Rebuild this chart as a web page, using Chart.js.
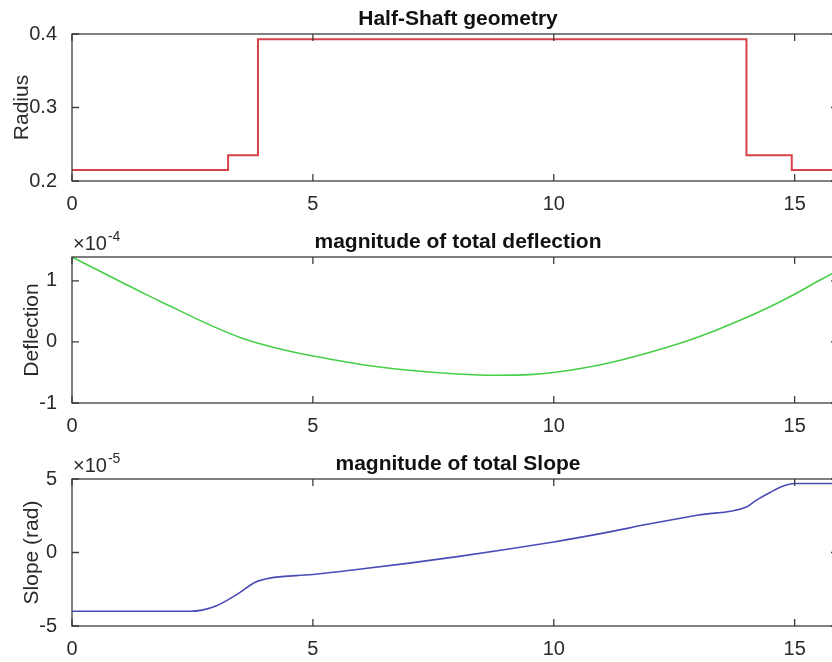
<!DOCTYPE html>
<html>
<head>
<meta charset="utf-8">
<title>Half-Shaft</title>
<script src="https://cdn.jsdelivr.net/npm/chart.js@4"></script>
<style>
  html, body { margin: 0; padding: 0; background: #fff; overflow: hidden; width: 832px; height: 662px; }
  .panel { position: absolute; left: 0; }
</style>
</head>
<body>
<div class="panel" style="top:0px"><canvas id="geom" width="860" height="222"></canvas></div>
<div class="panel" style="top:222px"><canvas id="defl" width="860" height="222"></canvas></div>
<div class="panel" style="top:444px"><canvas id="slope" width="860" height="218"></canvas></div>
<script>
// position along the shaft
const xTicks = [0, 5, 10, 15];
const xMax = 15.9;

// shaft radius, piecewise constant (start of each section)
const shaftX = [0, 3.24, 3.86, 14.0, 14.94, 15.9];
const shaftRadius = [0.215, 0.235, 0.393, 0.235, 0.215, 0.215];
const radiusTicks = [0.2, 0.3, 0.4];

// total deflection, in units of 1e-4
const deflX = [0, 0.5, 1, 1.5, 2, 2.5, 3, 3.5, 4, 4.5, 5, 6, 7, 8, 8.8, 9.5, 10, 11, 12, 13, 14, 14.5, 15, 15.5, 15.9];
const deflection = [1.39, 1.19, 0.99, 0.79, 0.60, 0.41, 0.23, 0.07, -0.05, -0.15, -0.23, -0.37, -0.465, -0.525, -0.545, -0.535, -0.50, -0.37, -0.17, 0.08, 0.40, 0.58, 0.78, 1.0, 1.17];
const deflTicks = [-1, 0, 1];

// total slope, in units of 1e-5 rad
const slopeX = [0, 2.45, 2.7, 3.0, 3.4, 3.87, 5, 6, 7, 8, 9, 10, 11, 12, 13, 14, 14.2, 14.5, 14.75, 15, 15.9];
const slope = [-4.0, -4.0, -3.92, -3.62, -2.9, -1.93, -1.5, -1.12, -0.72, -0.28, 0.2, 0.72, 1.3, 1.95, 2.55, 3.1, 3.55, 4.1, 4.5, 4.69, 4.69];
const slopeTicks = [-5, 0, 5];

const FONT = '"Liberation Sans", Arial, Helvetica, sans-serif';
const axisColor = '#3c3c3c';
const textColor = '#2a2a2a';

// box round the axes, inward ticks on all four sides, title and exponent
const frame = {
  id: 'frame',
  afterDatasetsDraw(chart, args, opts) {
    const { ctx, chartArea: a, scales } = chart;
    const tl = 7;
    ctx.save();
    ctx.strokeStyle = axisColor;
    ctx.lineWidth = 1.3;
    ctx.strokeRect(a.left, a.top, a.right - a.left, a.bottom - a.top);
    ctx.beginPath();
    scales.x.ticks.forEach(t => {
      const px = scales.x.getPixelForValue(t.value);
      ctx.moveTo(px, a.bottom); ctx.lineTo(px, a.bottom - tl);
      ctx.moveTo(px, a.top); ctx.lineTo(px, a.top + tl);
    });
    scales.y.ticks.forEach(t => {
      const py = scales.y.getPixelForValue(t.value);
      ctx.moveTo(a.left, py); ctx.lineTo(a.left + tl, py);
      ctx.moveTo(a.right, py); ctx.lineTo(a.right - tl, py);
    });
    ctx.stroke();

    ctx.fillStyle = '#111';
    ctx.font = 'bold 21px ' + FONT;
    ctx.textAlign = 'center';
    ctx.textBaseline = 'alphabetic';
    ctx.fillText(opts.title, (a.left + a.right) / 2 + 3, a.top - 9);

    if (opts.exponent) {
      ctx.fillStyle = textColor;
      ctx.textAlign = 'left';
      ctx.font = '20px ' + FONT;
      const base = '\u00d710';
      ctx.fillText(base, a.left + 1, a.top - 7);
      const w = ctx.measureText(base).width;
      ctx.font = '14px ' + FONT;
      ctx.fillText(opts.exponent, a.left + 2 + w, a.top - 16);
    }
    ctx.restore();
  }
};

function panel(id, xs, ys, color, yMin, yMax, yTicks, yLabel, labelPad, title, exponent, areaTop, areaBottom, fmt) {
  const canvas = document.getElementById(id);
  const h = canvas.height;
  const isStep = id === 'geom';
  return new Chart(canvas, {
    type: 'line',
    data: {
      datasets: [{
        data: xs.map((x, i) => ({ x: x, y: ys[i] })),
        borderColor: color,
        borderWidth: isStep ? 2 : 1.6,
        pointRadius: 0,
        fill: false,
        stepped: isStep ? 'before' : false,
        cubicInterpolationMode: isStep ? 'default' : 'monotone'
      }]
    },
    options: {
      responsive: false,
      animation: false,
      events: [],
      layout: { padding: { top: areaTop, right: 22, bottom: 0, left: 0 } },
      plugins: {
        legend: { display: false },
        tooltip: { enabled: false },
        frame: { title: title, exponent: exponent }
      },
      scales: {
        x: {
          type: 'linear',
          min: 0,
          max: xMax,
          grid: { display: false },
          border: { display: false },
          afterBuildTicks: s => { s.ticks = xTicks.map(v => ({ value: v })); },
          afterFit: s => { s.height = h - areaBottom; },
          ticks: { color: textColor, font: { family: FONT, size: 20 }, padding: 3, maxRotation: 0 }
        },
        y: {
          min: yMin,
          max: yMax,
          grid: { display: false },
          border: { display: false },
          afterBuildTicks: s => { s.ticks = yTicks.map(v => ({ value: v })); },
          afterFit: s => { s.width = 72; },
          ticks: { color: textColor, font: { family: FONT, size: 20 }, padding: 7, callback: fmt },
          title: {
            display: true,
            text: yLabel,
            color: textColor,
            font: { family: FONT, size: 21 },
            padding: { top: labelPad, bottom: 0 }
          }
        }
      }
    },
    plugins: [frame]
  });
}

panel('geom', shaftX, shaftRadius, '#d8404a', 0.2, 0.4, radiusTicks, 'Radius', 10,
  'Half-Shaft geometry', null, 34, 181, v => v.toFixed(1));
panel('defl', deflX, deflection, '#46cf46', -1, 1.39, deflTicks, 'Deflection', 20,
  'magnitude of total deflection', '-4', 35, 181, v => String(v));
panel('slope', slopeX, slope, '#4b4bb8', -5, 5, slopeTicks, 'Slope (rad)', 20,
  'magnitude of total Slope', '-5', 35, 182, v => String(v));
</script>
</body>
</html>
